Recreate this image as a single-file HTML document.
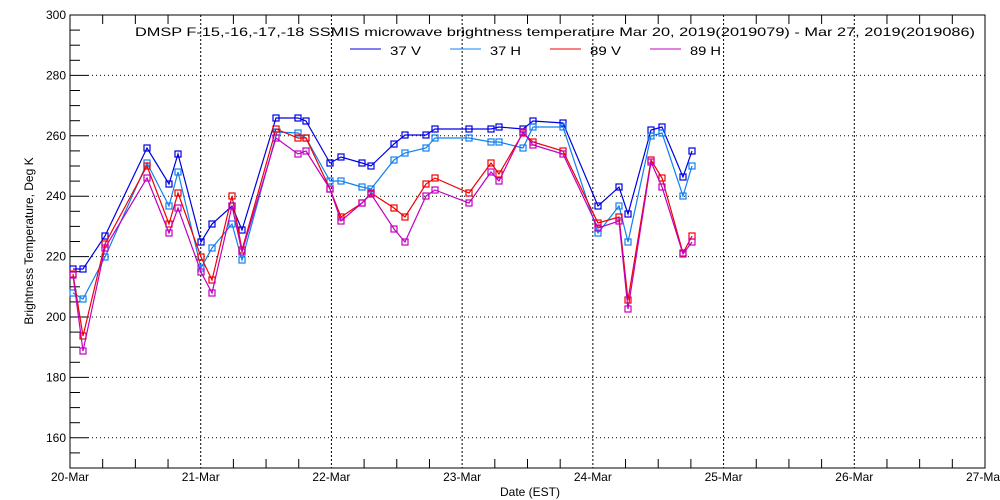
<!DOCTYPE html>
<html><head><meta charset="utf-8"><style>
html,body{margin:0;padding:0;background:#fff;}
svg{display:block;}
text{font-family:"Liberation Sans",sans-serif;font-size:12px;fill:#000;}
</style></head><body>
<svg id="s" width="1000" height="500" xmlns="http://www.w3.org/2000/svg">
<rect width="1000" height="500" fill="#fff"/>
<g id="grid"></g>
<rect x="70" y="15" width="915" height="453" fill="none" stroke="#000" stroke-width="1"/>
<text x="135" y="36" font-size="14" textLength="840" lengthAdjust="spacingAndGlyphs">DMSP F-15,-16,-17,-18 SSMIS microwave brightness temperature Mar 20, 2019(2019079) - Mar 27, 2019(2019086)</text>
<line x1="350" y1="49" x2="381" y2="49" stroke="#0000e0"/><text x="390" y="55" font-size="14" textLength="31" lengthAdjust="spacingAndGlyphs">37 V</text>
<line x1="450" y1="49" x2="481" y2="49" stroke="#1080f0"/><text x="490" y="55" font-size="14" textLength="31" lengthAdjust="spacingAndGlyphs">37 H</text>
<line x1="550" y1="49" x2="581" y2="49" stroke="#f00000"/><text x="590" y="55" font-size="14" textLength="31" lengthAdjust="spacingAndGlyphs">89 V</text>
<line x1="650" y1="49" x2="681" y2="49" stroke="#c000c0"/><text x="690" y="55" font-size="14" textLength="31" lengthAdjust="spacingAndGlyphs">89 H</text>
<text x="530" y="496" text-anchor="middle">Date (EST)</text>
<text transform="translate(33,241) rotate(-90)" text-anchor="middle">Brightness Temperature, Deg K</text>
<g id="ser"></g>
</svg>
<script>
var NS="http://www.w3.org/2000/svg";
function el(p,t,a){var e=document.createElementNS(NS,t);for(var k in a)e.setAttribute(k,a[k]);p.appendChild(e);return e;}
var g=document.getElementById('grid');
function Y(v){return 15+(300-v)*453/150;}
for(var v=150;v<=300;v+=5){var y=Y(v);
 if(v%20==0){el(g,'line',{x1:70,y1:y,x2:88,y2:y,stroke:'#000'});
  if(v>150&&v<300)el(g,'line',{x1:88,y1:y,x2:985,y2:y,stroke:'#000','stroke-dasharray':'1,3'});
  var t=el(g,'text',{x:66,y:y+4,'text-anchor':'end','font-size':'11'});t.textContent=v;}
 else{el(g,'line',{x1:70,y1:y,x2:80,y2:y,stroke:'#000'});}
}
var days=['20-Mar','21-Mar','22-Mar','23-Mar','24-Mar','25-Mar','26-Mar','27-Mar'];
for(var i=0;i<=28;i++){var x=70+i*915/28;
 if(i%4==0){var d=i/4;
  if(d>0&&d<7)el(g,'line',{x1:x,y1:15,x2:x,y2:468,stroke:'#000','stroke-dasharray':'2,2'});
  var t=el(g,'text',{x:x,y:481,'text-anchor':'middle','font-size':'11'});t.textContent=days[d];}
 else{el(g,'line',{x1:x,y1:468,x2:x,y2:459,stroke:'#000'});el(g,'line',{x1:x,y1:15,x2:x,y2:24,stroke:'#000'});}
}
var S=[
['#0000e0',[[73,269],[83,269],[105,236],[147,148],[169,184],[178,154],[201,242],[212,224],[232,206],[242,230],[276,118],[298,118],[306,121],[330,163],[341,157],[362,163],[371,166],[394,144],[405,135],[426,135],[435,129],[469,129],[491,129],[499,127],[523,129],[533,121],[563,123],[598,206],[619,187],[628,214],[651,130],[662,127],[683,177],[692,151]]],
['#1080f0',[[73,293],[83,299],[105,257],[147,163],[169,206],[178,172],[201,268],[212,248],[232,224],[242,260],[277,132],[298,133],[306,138],[330,181],[341,181],[362,187],[371,189],[394,160],[405,153],[426,148],[435,138],[469,138],[491,142],[499,142],[523,148],[533,127],[563,127],[598,233],[619,206],[628,242],[651,136],[662,133],[683,196],[692,166]]],
['#f00000',[[73,274],[83,336],[105,244],[147,166],[169,224],[178,193],[201,257],[212,280],[232,196],[242,250],[276,129],[298,138],[306,138],[330,189],[341,217],[362,203],[371,193],[394,208],[405,217],[426,184],[435,178],[469,193],[491,163],[499,174],[523,133],[533,142],[563,151],[598,223],[619,217],[628,300],[651,160],[662,178],[683,253],[692,236]]],
['#c000c0',[[73,275],[83,351],[105,248],[147,178],[169,233],[178,208],[201,272],[212,293],[232,206],[242,252],[276,138],[298,154],[306,151],[330,189],[341,221],[362,203],[371,194],[394,229],[405,242],[426,196],[435,190],[469,203],[491,172],[499,181],[523,132],[533,145],[563,154],[598,228],[619,221],[628,309],[651,162],[662,187],[683,254],[692,242]]]
];
var sg=document.getElementById('ser');
S.forEach(function(s){
 el(sg,'polyline',{points:s[1].map(function(p){return p.join(',')}).join(' '),fill:'none',stroke:s[0],'stroke-width':1.2});
 s[1].forEach(function(p){el(sg,'rect',{x:p[0]-3,y:p[1]-3,width:6,height:6,fill:'none',stroke:s[0],'stroke-width':1.2});});
});
</script>
</body></html>
